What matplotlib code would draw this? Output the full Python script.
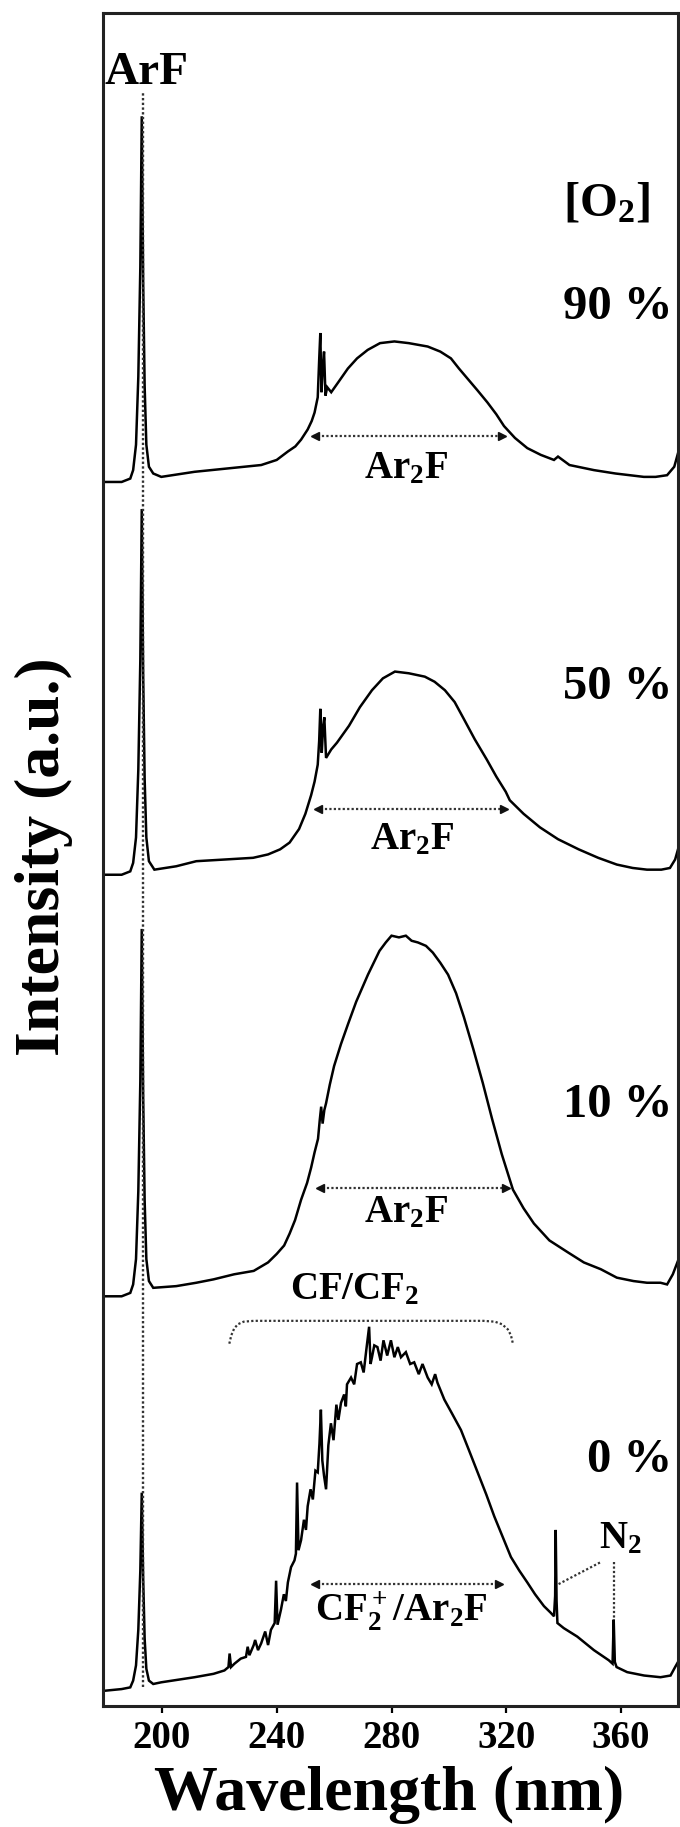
import matplotlib
matplotlib.use("Agg")
import matplotlib.pyplot as plt

# emission spectra for 4 O2 concentrations (a.u., stacked)
wl_90 = [180, 186, 189, 190, 191, 191.8, 192.5, 193.0, 193.5, 194.0, 194.6, 195.5, 197, 199.8,
         211.4, 223, 234.6, 240, 243.9, 246.5, 248.5, 250.8, 252.2, 253.2, 254.3, 254.8, 255.2,
         255.6, 256.1, 256.5, 257.0, 257.6, 259.0, 261.5, 264.8, 268, 271.7, 276, 281, 286, 292.6,
         297, 300.7, 303.5, 306.5, 310, 313.4, 316.5, 319.2, 323, 327.3, 332, 336.6, 338, 342,
         350.5, 358, 367.9, 372, 376, 378.5, 379.8]
int_90 = [72.3, 72.3, 72.5, 73.0, 74.5, 78.5, 85.0, 93.9, 84.0, 78.0, 74.5, 73.2, 72.8, 72.6,
          72.9, 73.1, 73.3, 73.6, 74.1, 74.4, 74.8, 75.4, 75.9, 76.4, 77.3, 79.5, 81.1,
          77.6, 79.2, 80.0, 77.4, 77.9, 77.6, 78.2, 79.0, 79.6, 80.1, 80.5, 80.6, 80.5, 80.3,
          80.0, 79.6, 79.0, 78.4, 77.7, 77.0, 76.3, 75.6, 74.9, 74.3, 73.9, 73.6, 73.8, 73.3,
          73.0, 72.8, 72.6, 72.6, 72.7, 73.2, 74.0]

wl_50 = [180, 186, 189, 190, 191, 191.8, 192.5, 193.0, 193.5, 194.0, 194.6, 195.5, 197.4, 205,
         212, 222, 231.8, 237, 241.2, 244.5, 247.8, 250, 252, 253.2, 254.3, 254.8, 255.2, 255.7,
         256.2, 256.6, 257.2, 259, 261, 265.2, 269, 273.2, 277, 281.2, 286, 291.6, 295, 298.6,
         302, 305.2, 309, 313.2, 316.5, 319.8, 321.2, 326, 331.7, 338, 345.2, 352, 358.5, 364,
         369, 374, 377, 378.8, 379.8]
int_50 = [49.1, 49.1, 49.3, 49.8, 51.3, 55.3, 61.8, 70.7, 60.8, 54.8, 51.3, 49.9, 49.4, 49.6,
          49.9, 50.0, 50.1, 50.3, 50.6, 51.0, 51.8, 52.7, 53.8, 54.6, 55.6, 57.0, 58.9, 56.3,
          57.9, 58.4, 56.0, 56.5, 56.9, 57.9, 59.0, 60.0, 60.7, 61.1, 61.0, 60.8, 60.5, 60.0,
          59.3, 58.3, 57.1, 55.9, 54.9, 54.0, 53.5, 52.7, 51.9, 51.2, 50.6, 50.1, 49.7, 49.5,
          49.4, 49.4, 49.5, 50.0, 50.6]

wl_10 = [180, 186, 189, 190, 191, 191.8, 192.5, 193.0, 193.5, 194.0, 194.6, 195.5, 197, 205,
         212, 218, 225.2, 232, 237, 240, 242.6, 244.5, 246.4, 248.5, 250.6, 252, 253.2, 254.4,
         255.0, 255.5, 256.0, 256.6, 257.2, 258.5, 260, 262.4, 264.9, 267.7, 271.8, 275.8, 278,
         280, 282.6, 285, 287, 289.2, 292, 294.4, 297, 299.7, 302.5, 305.2, 308.5, 311.8, 315,
         318.4, 322.3, 326, 329.6, 335, 341.4, 347, 352.9, 358.5, 364.3, 369, 373.7, 376, 378,
         379.8]
int_10 = [24.2, 24.2, 24.4, 24.9, 26.4, 30.4, 36.9, 45.9, 35.9, 29.9, 26.4, 25.1, 24.7, 24.8,
          25.0, 25.2, 25.5, 25.7, 26.2, 26.7, 27.2, 27.9, 28.7, 29.9, 30.9, 31.8, 32.7, 33.5,
          34.6, 35.4, 34.4, 35.2, 35.6, 36.7, 37.8, 39.1, 40.3, 41.6, 43.2, 44.6, 45.1,
          45.5, 45.4, 45.5, 45.2, 45.1, 44.9, 44.5, 43.9, 43.2, 42.1, 40.7, 38.8, 36.8, 34.7,
          32.6, 30.5, 29.4, 28.5, 27.5, 26.8, 26.2, 25.8, 25.3, 25.1, 25.0, 25.0, 24.9, 25.5,
          26.3]

wl_0 = [180, 186, 189, 190, 191, 191.8, 192.5, 193.0, 193.5, 194.0, 194.6, 195.5, 197, 199.8,
        211.4, 218, 221.8, 223.2, 223.6, 224.1, 225.3, 227.5, 229.3, 229.9, 230.5, 232, 232.5,
        233.5, 234.6, 236, 237, 238, 239.3, 239.8, 240.3, 241.5, 242.5, 243.2, 243.9, 245,
        246.2, 246.7, 247.1, 247.6, 248.5, 249.5, 250.2, 250.8, 251.8, 252.6, 253.5, 254.3,
        254.9, 255.4, 255.9, 256.5, 257.2, 258, 258.9, 259.8, 260.8, 261.5, 262.4, 263.5, 264.1,
        264.5, 265.9, 267, 268, 269.3, 270.3, 271.2, 272.2, 272.7, 273.2, 274, 275.1, 276.2,
        277.2, 278.5, 279.8, 281, 282.2, 283.3, 285, 286.5, 287.9, 289.5, 290.8, 292.6, 294,
        295.2, 296, 298.4, 301, 304.2, 307, 310, 313, 315.8, 318.7, 321.6, 324.5, 327.3, 330,
        333.1, 335.5, 336.6, 337.0, 337.2, 337.5, 337.8, 340, 344.7, 350.5, 355.7, 357.0, 357.4,
        357.8, 358.4, 362.1, 368, 373.7, 377.2, 378.8, 379.8]
int_0 = [0.9, 1.0, 1.1, 1.5, 2.4, 4.5, 8.0, 12.6, 7.5, 4.0, 2.2, 1.5, 1.3, 1.4,
         1.7, 1.9, 2.1, 2.3, 3.1, 2.3, 2.5, 2.8, 2.9, 3.5, 3.0, 3.6, 3.9,
         3.3, 3.7, 4.4, 3.6, 4.5, 4.9, 7.4, 4.8, 5.7, 6.6, 6.2, 7.3, 8.2,
         8.6, 9.0, 13.2, 9.2, 9.8, 11.0, 10.4, 11.8, 12.8, 12.2, 13.9, 13.8,
         15.5, 17.5, 14.5, 13.6, 12.8, 15.4, 16.7, 15.7, 17.8, 16.9, 17.9, 18.4, 17.7,
         19.0, 19.4, 19.0, 20.2, 20.3, 19.7, 21.0, 22.4, 20.2, 20.6, 21.3, 21.2, 20.4,
         21.6, 20.7, 21.6, 20.6, 21.2, 20.6, 20.9, 20.2, 20.3, 19.6, 20.2, 19.4, 19.0,
         19.6, 19.1, 18.1, 17.3, 16.3, 15.1, 13.8, 12.5, 11.2, 10.0, 8.8, 8.0, 7.3, 6.6,
         5.9, 5.5, 5.3, 6.5, 10.4, 6.2, 4.9, 4.6, 4.1, 3.3, 2.7, 2.5, 5.1,
         2.6, 2.3, 2.0, 1.8, 1.7, 1.8, 2.3, 2.6]

o2_labels = ["90 %", "50 %", "10 %", "0 %"]
o2_label_y = [81.9, 59.5, 34.8, 13.8]
span_labels = [r"Ar$_2$F", r"Ar$_2$F", r"Ar$_2$F", r"CF$_2^+$/Ar$_2$F"]
span_left = [252.7, 253.7, 254.4, 252.7]
span_right = [319.2, 319.8, 320.5, 318.2]
span_y = [75.0, 53.0, 30.6, 7.2]
span_label_x = [285.0, 287.0, 285.0, 283.3]
span_label_y = [72.5, 50.6, 28.6, 5.0]

plt.rcParams['font.family'] = ['Liberation Serif', 'DejaVu Serif']
plt.rcParams['font.weight'] = 'bold'
plt.rcParams['mathtext.fontset'] = 'custom'
plt.rcParams['mathtext.rm'] = 'Liberation Serif:bold'
plt.rcParams['mathtext.it'] = 'Liberation Serif:bold'
plt.rcParams['mathtext.bf'] = 'Liberation Serif:bold'

DOT = (0, (1, 1))
DOTC = '#333333'


def draw_span(ax, x1, x2, y):
    ''' dotted double arrow marking a band '''
    ax.plot([x1, x2], [y, y], color=DOTC, lw=1.6, ls=DOT)
    ax.plot([x1 + 0.6], [y], marker='<', ms=5.5, color='#111111', lw=0)
    ax.plot([x2 - 0.6], [y], marker='>', ms=5.5, color='#111111', lw=0)


fig = plt.figure(figsize=(6.8, 18.27), dpi=100)
ax = fig.add_axes([103 / 680, 1 - 1706 / 1827, 575 / 680, 1693 / 1827])

for wl, inten in [(wl_90, int_90), (wl_50, int_50), (wl_10, int_10), (wl_0, int_0)]:
    ax.plot(wl, inten, color='black', lw=1.8, solid_joinstyle='miter')

ax.set_xlim(179.5, 379.8)
ax.set_ylim(0, 100)
ax.set_xticks([200, 240, 280, 320, 360])
ax.set_yticks([])
ax.tick_params(axis='x', direction='out', length=5, width=1.6, pad=5, labelsize=28)
for s in ax.spines.values():
    s.set_linewidth(2.2)
    s.set_color('#222222')

# ArF line marker
ax.plot([193.3, 193.3], [1.1, 95.4], color=DOTC, lw=1.7, ls=DOT)
ax.text(194.6, 95.8, "ArF", fontsize=34, ha='center', va='baseline')

ax.text(355.0, 88.0, r"[O$_2$]", fontsize=35, ha='center', va='baseline')
for lab, y in zip(o2_labels, o2_label_y):
    ax.text(377.8, y, lab, fontsize=35, ha='right', va='baseline')

for x1, x2, y, lab, lx, ly in zip(span_left, span_right, span_y, span_labels, span_label_x, span_label_y):
    draw_span(ax, x1, x2, y)
    ax.text(lx, ly, lab, fontsize=28, ha='center', va='baseline')

# CF/CF2 bracket
bx = [223.5, 224.2, 225.2, 226.5, 228.5, 232, 312, 316, 318.5, 320.5, 321.6, 322.3]
by = [21.4, 21.9, 22.3, 22.55, 22.7, 22.75, 22.75, 22.7, 22.55, 22.25, 21.9, 21.4]
ax.plot(bx, by, color=DOTC, lw=1.6, ls=DOT)
ax.text(267.0, 24.0, r"CF/CF$_2$", fontsize=28, ha='center', va='baseline')

# N2 pointers
ax.plot([338.2, 352.9], [7.2, 8.5], color=DOTC, lw=1.6, ls=DOT)
ax.plot([357.5, 357.5], [8.5, 5.1], color=DOTC, lw=1.6, ls=DOT)
ax.text(359.6, 9.3, r"N$_2$", fontsize=28, ha='center', va='baseline')

fig.text(389 / 680, 1 - 1810 / 1827, "Wavelength (nm)", fontsize=46, ha='center', va='baseline')
fig.text(44 / 680, 1 - 857 / 1827, "Intensity (a.u.)", fontsize=46, ha='center', va='center',
         rotation=90)

fig.savefig('out.png', dpi=100)
